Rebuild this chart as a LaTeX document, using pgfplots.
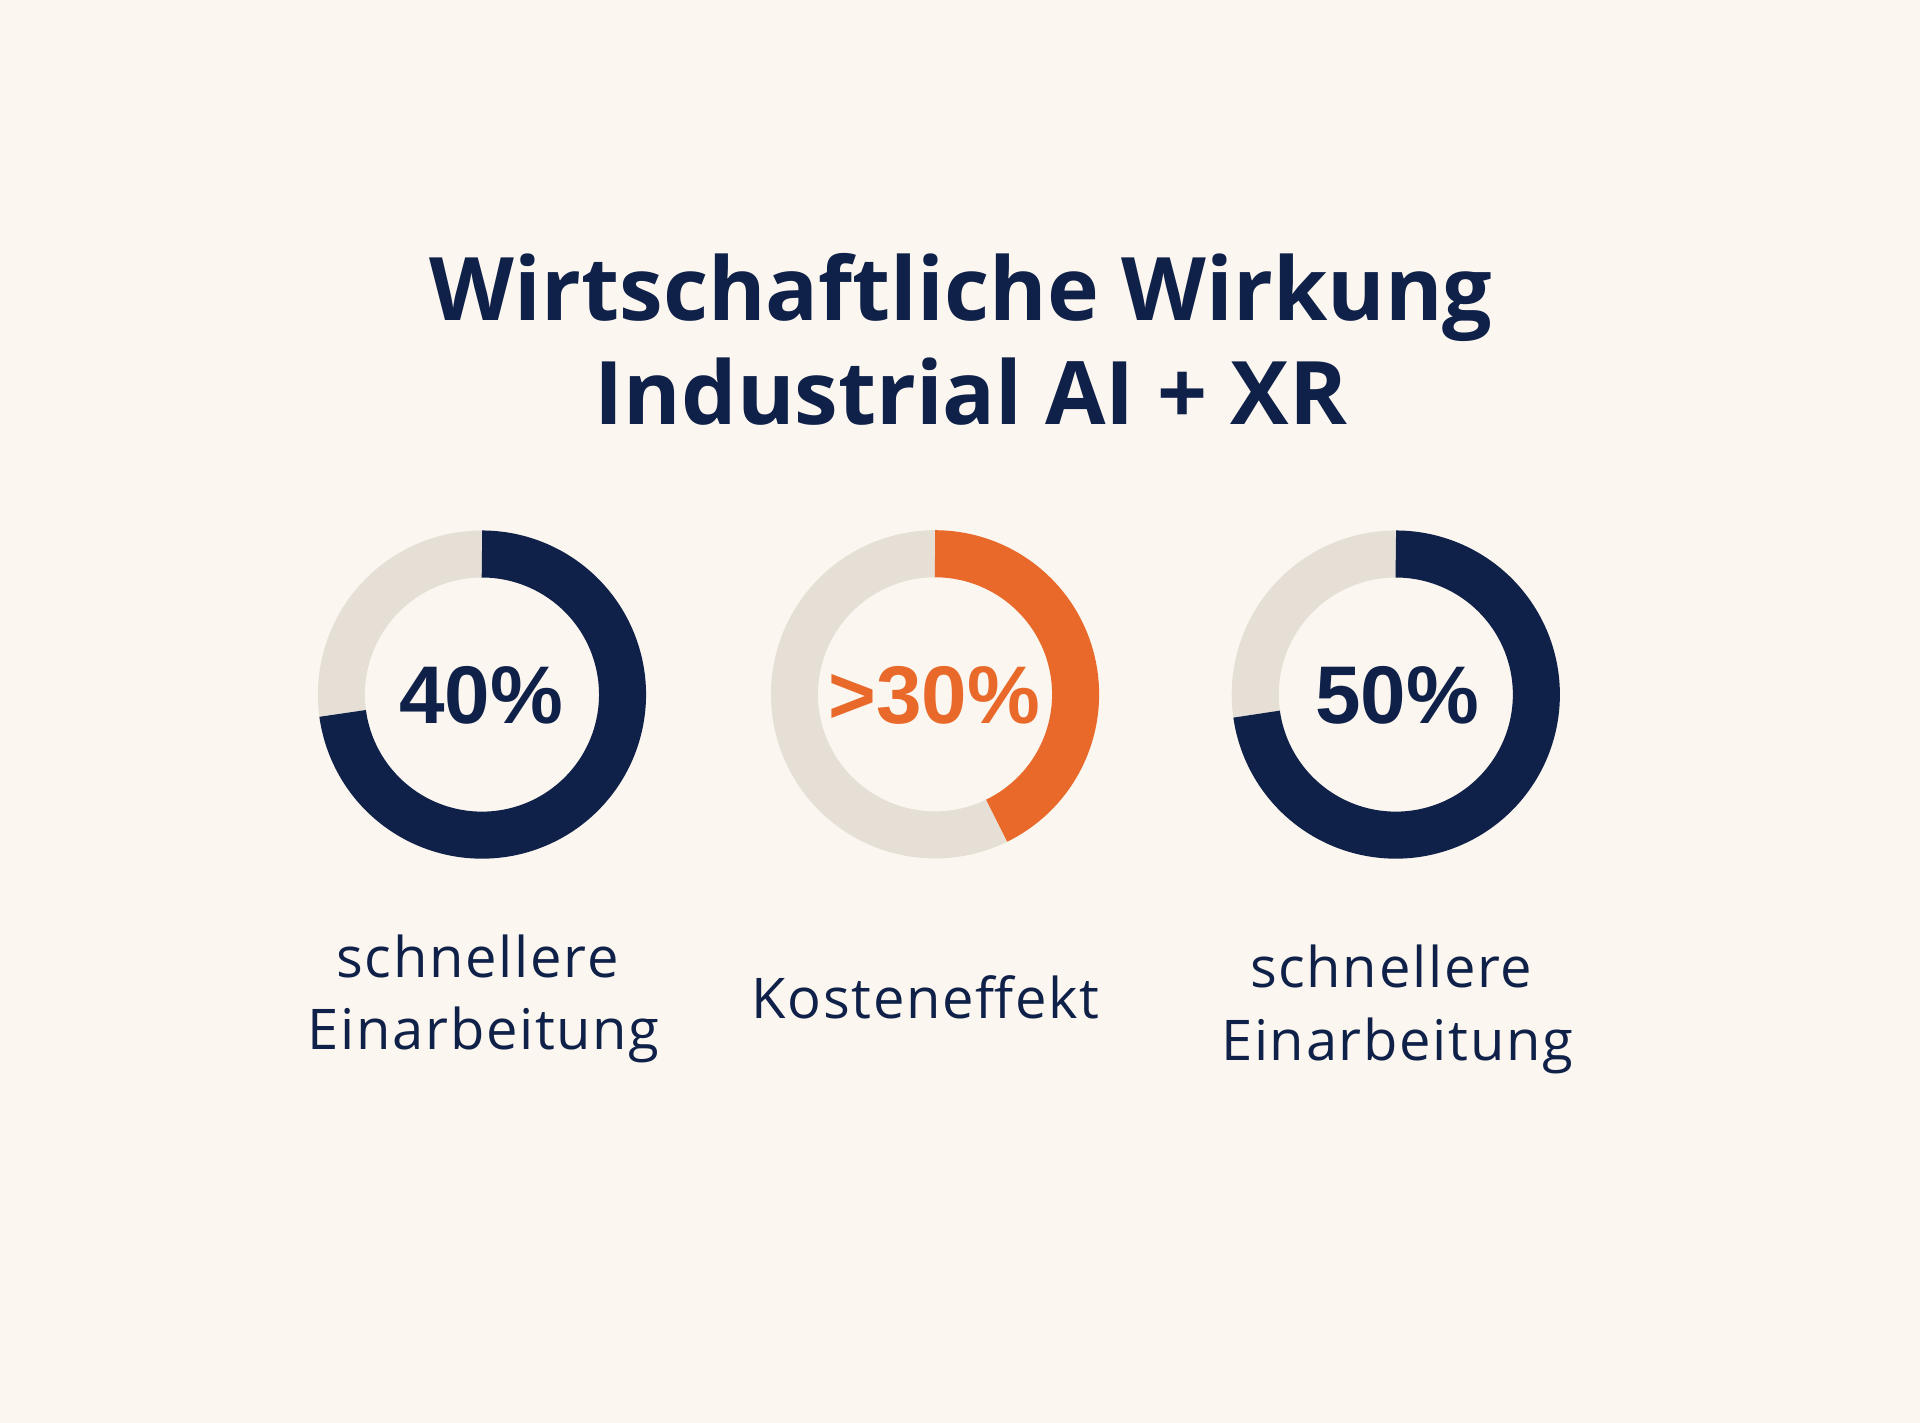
\documentclass[border=0pt]{standalone}
\usepackage{pgfplots}
\pgfplotsset{compat=1.18}
\usepackage{fontspec}
\setmainfont{Open Sans}
\newfontfamily\titlefont{Open Sans}[BoldFont={Open Sans Bold}]
\newfontfamily\numfont{Liberation Sans}
\newfontfamily\labelfont{Open Sans}[LetterSpace=3]
\definecolor{bgc}{HTML}{FBF6EF}
\definecolor{navy}{HTML}{0F2148}
\definecolor{orng}{HTML}{E8692A}
\definecolor{ringgray}{HTML}{E5DFD6}
\begin{document}
\begin{tikzpicture}
\begin{axis}[
  width=16cm, height=11.858cm, scale only axis,
  xmin=0, xmax=1568, ymin=0, ymax=1162,
  hide axis, clip=true,
]
\fill[bgc] (rel axis cs:0,0) rectangle (rel axis cs:1,1);
% donut 1: navy sweep 90 -> -172.3 deg, gray rest
\addplot[domain=90:187.7, samples=120, line width=0.392cm, color=ringgray] ({393.6+114.8*cos(x)},{594.8+114.8*sin(x)});
\addplot[domain=90:-172.3, samples=240, line width=0.392cm, color=navy] ({393.6+114.8*cos(x)},{594.8+114.8*sin(x)});
% donut 2: orange sweep 90 -> -64 deg
\addplot[domain=90:296, samples=200, line width=0.392cm, color=ringgray] ({763.6+114.8*cos(x)},{595+114.8*sin(x)});
\addplot[domain=90:-64, samples=160, line width=0.392cm, color=orng] ({763.6+114.8*cos(x)},{595+114.8*sin(x)});
% donut 3: navy sweep 90 -> -172 deg
\addplot[domain=90:188, samples=120, line width=0.392cm, color=ringgray] ({1139.9+114.8*cos(x)},{594.8+114.8*sin(x)});
\addplot[domain=90:-172, samples=240, line width=0.392cm, color=navy] ({1139.9+114.8*cos(x)},{594.8+114.8*sin(x)});
% title
\node[anchor=base, text=navy, font=\titlefont\bfseries\fontsize{20.8}{26}\selectfont] at (axis cs:785,900) {Wirtschaftliche Wirkung};
\node[anchor=base, text=navy, font=\titlefont\bfseries\fontsize{20.8}{26}\selectfont] at (axis cs:793,815) {Industrial AI + XR};
% percentages
\node[anchor=base, text=navy, font=\numfont\bfseries\fontsize{19.4}{22}\selectfont] at (axis cs:392.8,571.3) {40\%};
\node[anchor=base, text=orng, font=\numfont\bfseries\fontsize{19.4}{22}\selectfont] at (axis cs:762.8,571.3) {>30\%};
\node[anchor=base, text=navy, font=\numfont\bfseries\fontsize{19.4}{22}\selectfont] at (axis cs:1141,571.3) {50\%};
% labels
\node[anchor=base, text=navy, font=\labelfont\fontsize{13.3}{17}\selectfont] at (axis cs:390,364) {schnellere};
\node[anchor=base, text=navy, font=\labelfont\fontsize{13.3}{17}\selectfont] at (axis cs:395,305) {Einarbeitung};
\node[anchor=base, text=navy, font=\labelfont\fontsize{13.3}{17}\selectfont] at (axis cs:756,330) {Kosteneffekt};
\node[anchor=base, text=navy, font=\labelfont\fontsize{13.3}{17}\selectfont] at (axis cs:1136,356) {schnellere};
\node[anchor=base, text=navy, font=\labelfont\fontsize{13.3}{17}\selectfont] at (axis cs:1141,296) {Einarbeitung};
\end{axis}
\end{tikzpicture}
\end{document}
